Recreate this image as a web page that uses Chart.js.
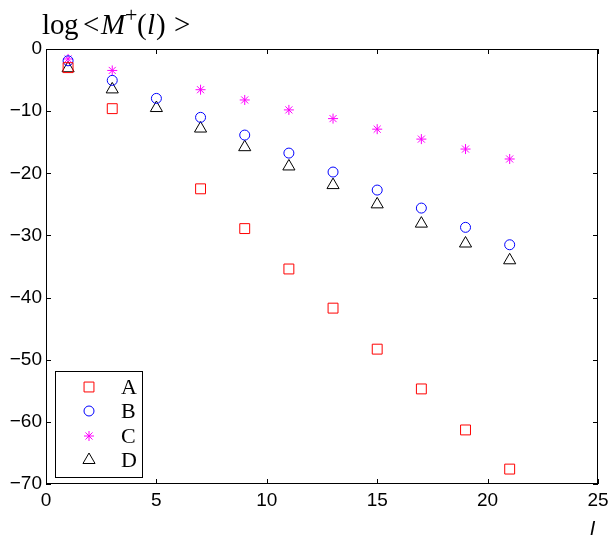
<!DOCTYPE html>
<html>
<head>
<meta charset="utf-8">
<script src="https://cdn.jsdelivr.net/npm/chart.js@4.4.1/dist/chart.umd.min.js"></script>
<style>
  html, body { margin: 0; padding: 0; background: #fff; }
  #wrap { position: relative; width: 609px; height: 535px; }
</style>
</head>
<body>
<div id="wrap"><canvas id="chartLog"></canvas></div>
<script>
const xvals = [1, 3, 5, 7, 9, 11, 13, 15, 17, 19, 21];
const serieA = [-3.0, -9.6, null, -22.5, -28.9, -35.4, -41.7, -48.3, -54.7, -61.3, -67.6];
const serieB = [-1.9, -5.05, -7.95, -11.0, -13.85, -16.75, -19.8, -22.7, -25.6, -28.7, -31.5];
const serieC = [-1.6, -3.45, null, -6.55, -8.2, -9.8, -11.2, -12.9, -14.5, -16.1, -17.7];
const serieD = [-3.1, -6.5, -9.5, -12.8, -15.8, -18.9, -21.9, -25.0, -28.1, -31.3, -34.0];
const nombres = ['A', 'B', 'C', 'D'];
const xticks = [0, 5, 10, 15, 20, 25];
const yticks = [0, -10, -20, -30, -40, -50, -60, -70];

const tickFont = { family: '"Liberation Sans", Arial, sans-serif', size: 19 };

function puntos(ys) {
  const out = [];
  for (var i = 0; i < xvals.length; i++) {
    if (ys[i] !== null) out.push({ x: xvals[i], y: ys[i] });
  }
  return out;
}

function serie(label, ys, color, style, radius) {
  return {
    label: label,
    data: puntos(ys),
    showLine: false,
    pointStyle: style,
    pointRadius: radius,
    pointBorderWidth: 1,
    borderColor: color,
    pointBorderColor: color,
    pointBackgroundColor: 'rgba(0,0,0,0)',
    backgroundColor: 'rgba(0,0,0,0)'
  };
}

// marco, ticks hacia adentro, titulos y leyenda
const decoracion = {
  id: 'decoracion',
  afterDraw(chart) {
    const ctx = chart.ctx;
    const a = chart.chartArea;
    const xs = chart.scales.x;
    const ys = chart.scales.y;
    const tl = 5;
    ctx.save();
    ctx.strokeStyle = '#000';
    ctx.lineWidth = 1;
    ctx.strokeRect(a.left + 0.5, a.top + 0.5, a.right - a.left - 1, a.bottom - a.top - 1);
    ctx.beginPath();
    xticks.forEach(v => {
      const px = Math.round(xs.getPixelForValue(v)) + 0.5;
      ctx.moveTo(px, a.bottom); ctx.lineTo(px, a.bottom - tl);
      ctx.moveTo(px, a.top); ctx.lineTo(px, a.top + tl);
    });
    yticks.forEach(v => {
      const py = Math.round(ys.getPixelForValue(v)) + 0.5;
      ctx.moveTo(a.left, py); ctx.lineTo(a.left + tl, py);
      ctx.moveTo(a.right, py); ctx.lineTo(a.right - tl, py);
    });
    ctx.stroke();

    // titulo eje y: log <M+(l)>
    ctx.fillStyle = '#000';
    ctx.textBaseline = 'alphabetic';
    ctx.textAlign = 'left';
    const serif = '"Liberation Serif", "Times New Roman", serif';
    const base = 34;
    const partes = [
      ['lo', 'normal', 29, 42, 0],
      ['g', 'normal', 29, 64, 0],
      ['<', 'normal', 29, 83, 0],
      ['M', 'italic', 29, 101, 0],
      ['+', 'normal', 22, 125, -12],
      ['(', 'normal', 29, 137, 0],
      ['l', 'italic', 29, 147, 0],
      [')', 'normal', 29, 156, 0],
      ['>', 'normal', 29, 174, 0]
    ];
    partes.forEach(p => {
      ctx.font = p[1] + ' ' + p[2] + 'px ' + serif;
      ctx.fillText(p[0], p[3], base + p[4]);
    });

    // titulo eje x
    ctx.font = 'italic 21px "Liberation Sans", Arial, sans-serif';
    ctx.fillText('l', 590, 536);

    // leyenda
    const lx = 55.5, ly = 371.5, lw = 87, lh = 106;
    ctx.fillStyle = '#fff';
    ctx.fillRect(lx, ly, lw, lh);
    ctx.strokeRect(lx, ly, lw, lh);
    const filas = [387, 411, 436, 460];
    chart.data.datasets.forEach((ds, i) => {
      ctx.strokeStyle = ds.pointBorderColor;
      ctx.fillStyle = 'rgba(0,0,0,0)';
      ctx.lineWidth = 1;
      Chart.helpers.drawPoint(ctx, {
        pointStyle: ds.pointStyle,
        radius: ds.pointRadius,
        borderWidth: 1,
        rotation: 0
      }, 89, filas[i]);
      ctx.fillStyle = '#000';
      ctx.font = '22px ' + serif;
      ctx.textBaseline = 'middle';
      ctx.fillText(ds.label, 121, filas[i] + 1);
    });
    ctx.restore();
  }
};

const ctx = document.getElementById('chartLog').getContext('2d');

const myChart = new Chart(ctx, {
  type: 'scatter',
  data: {
    datasets: [
      serie(nombres[0], serieA, '#ff0000', 'rect', 7),
      serie(nombres[1], serieB, '#0000ff', 'circle', 5),
      serie(nombres[2], serieC, '#ff00ff', 'star', 5),
      serie(nombres[3], serieD, '#000000', 'triangle', 7)
    ]
  },
  options: {
    responsive: true,
    maintainAspectRatio: false,
    animation: false,
    events: [],
    layout: {
      autoPadding: false,
      padding: { top: 49, right: 11, left: 0, bottom: 0 }
    },
    plugins: {
      legend: { display: false },
      tooltip: { enabled: false }
    },
    scales: {
      x: {
        type: 'linear',
        min: 0,
        max: 25,
        afterFit: s => {
          s.height = 51;
          s.paddingLeft = 0;
          s.paddingRight = 0;
        },
        afterBuildTicks: s => { s.ticks = xticks.map(v => ({ value: v })); },
        grid: { display: false, drawTicks: false },
        border: { display: false },
        ticks: { color: '#000', font: tickFont, padding: 5, maxRotation: 0 }
      },
      y: {
        type: 'linear',
        min: -70,
        max: 0,
        afterFit: s => {
          s.width = 46;
          s.paddingTop = 0;
          s.paddingBottom = 0;
        },
        afterBuildTicks: s => { s.ticks = yticks.map(v => ({ value: v })); },
        grid: { display: false, drawTicks: false },
        border: { display: false },
        ticks: {
          color: '#000',
          font: tickFont,
          padding: 4,
          callback: v => String(v).replace('-', '\u2212')
        }
      }
    }
  },
  plugins: [decoracion]
});
</script>
</body>
</html>
